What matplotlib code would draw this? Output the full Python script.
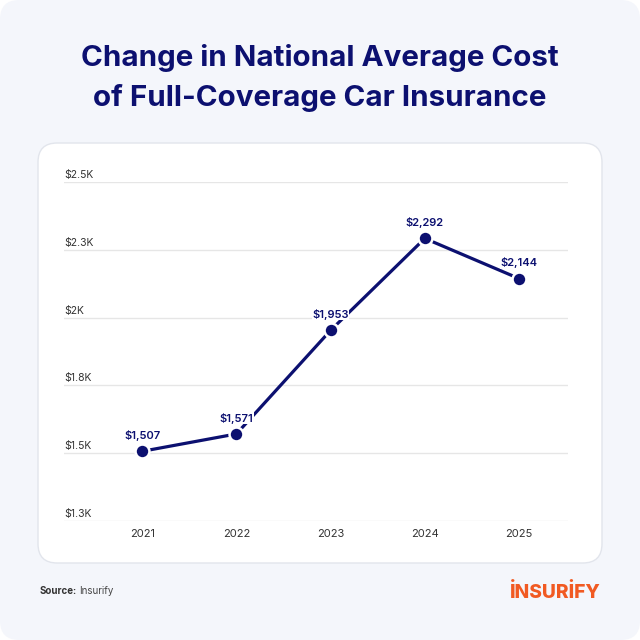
import matplotlib
matplotlib.use("Agg")
import matplotlib.pyplot as plt
from matplotlib.patches import FancyBboxPatch
import matplotlib.transforms as mtransforms

years = ["2021", "2022", "2023", "2024", "2025"]
costs = [1507, 1571, 1953, 2292, 2144]
cost_labels = ["$1,507", "$1,571", "$1,953", "$2,292", "$2,144"]
y_ticks = [1250, 1500, 1750, 2000, 2250, 2500]
y_tick_labels = ["$1.3K", "$1.5K", "$1.8K", "$2K", "$2.3K", "$2.5K"]

NAVY = "#0c1070"
BG = "#f4f6fb"
ORANGE = "#f15a22"

plt.rcParams['font.family'] = ['Inter', 'DejaVu Sans']

fig = plt.figure(figsize=(6.4, 6.4), dpi=100)
fig.patch.set_facecolor("white")

# outer rounded background
fig.patches.append(FancyBboxPatch((0.0, 0.0), 1.0, 1.0,
                                  boxstyle="round,pad=0,rounding_size=0.03",
                                  transform=fig.transFigure, facecolor=BG,
                                  edgecolor="none", zorder=0))
# white card
fig.patches.append(FancyBboxPatch((38/640, 1-563/640), (602-38)/640, (563-143)/640,
                                  boxstyle="round,pad=0,rounding_size=0.03",
                                  transform=fig.transFigure, facecolor="white",
                                  edgecolor="#e2e5ec", linewidth=1, zorder=1))

fig.text(0.5, 1-58/640, "Change in National Average Cost", ha="center", va="center",
         fontsize=21.3, fontweight="bold", color=NAVY)
fig.text(0.5, 1-98/640, "of Full-Coverage Car Insurance", ha="center", va="center",
         fontsize=21.3, fontweight="bold", color=NAVY)

ax = fig.add_axes([64/640, 1-521/640, (568-64)/640, (521-182)/640])
ax.set_facecolor("none")
ax.set_zorder(2)
x = list(range(len(years)))
ax.set_xlim(-0.83, 4.52)
ax.set_ylim(1250, 2500)
for s in ax.spines.values():
    s.set_visible(False)
ax.set_yticks(y_ticks)
ax.set_yticklabels([])
ax.tick_params(axis="y", length=0)
ax.grid(axis="y", color="#e6e6e6", linewidth=1)
ax.set_axisbelow(True)
ax.set_xticks(x)
ax.set_xticklabels(years, fontsize=8, color="#333333")
ax.tick_params(axis="x", length=0, pad=6)

trans = mtransforms.blended_transform_factory(ax.transAxes, ax.transData)
for v, lab in zip(y_ticks, y_tick_labels):
    ax.text(0.0, v, lab, transform=trans + mtransforms.ScaledTranslation(0, 1.5/72, fig.dpi_scale_trans),
            ha="left", va="bottom", fontsize=7.5, color="#333333")

ax.plot(x, costs, color=NAVY, linewidth=2.3, marker="o", markersize=10,
        markerfacecolor=NAVY, markeredgecolor="white", markeredgewidth=1.8, zorder=3)

for xi, c, lab in zip(x, costs, cost_labels):
    ax.annotate(lab, (xi, c), xytext=(0, 7.5), textcoords="offset points",
                ha="center", va="bottom", fontsize=8, color=NAVY, fontweight="semibold",
                bbox=dict(boxstyle="square,pad=0.05", facecolor="white", edgecolor="none"),
                zorder=4)

src = fig.text(40/640, 1-591/640, "Source:", ha="left", va="center", fontsize=7,
               fontweight="bold", color="#333333")
fig.canvas.draw()
ax.annotate("Insurify", xy=(1, 0.5), xycoords=src, xytext=(1.2, 0),
            textcoords="offset points", ha="left", va="center", fontsize=7,
            color="#444444", annotation_clip=False)
fig.text(601/640, 1-592/640, "İNSURİFY", ha="right", va="center", fontsize=13.8,
         fontweight="heavy", color=ORANGE)

fig.savefig("out.png", dpi=100, facecolor=fig.get_facecolor())
